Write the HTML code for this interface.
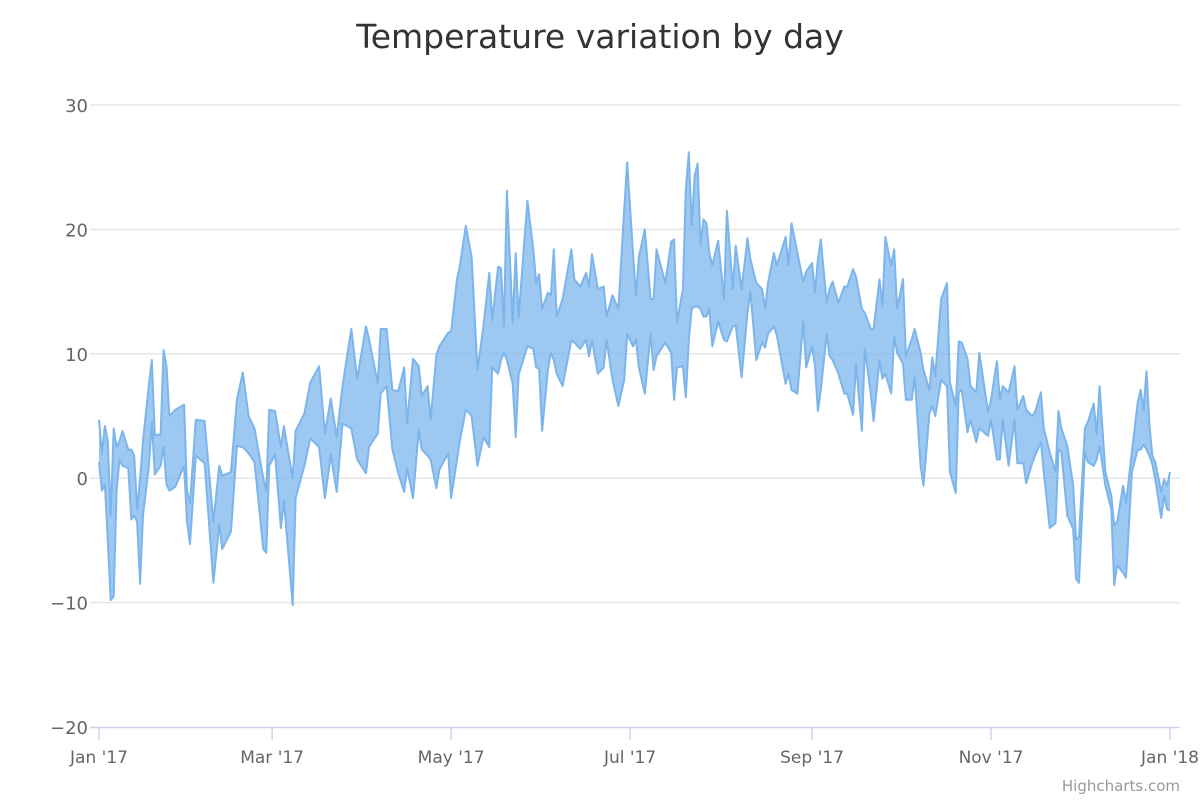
<!DOCTYPE html>
<html><head><meta charset="utf-8"><style>
html,body{margin:0;padding:0;background:#fff;}
svg{display:block;font-family:"DejaVu Sans","Liberation Sans",sans-serif;}
</style></head><body>
<svg id="chart" width="1200" height="800" viewBox="0 0 1200 800">
<rect width="1200" height="800" fill="#fff"/>
<text x="600" y="48" text-anchor="middle" font-size="33" fill="#333">Temperature variation by day</text>
<g id="grid"></g>
<g id="ylabels"></g>
<g id="series"></g>
<g id="xaxis"></g>
<text x="1180" y="791" text-anchor="end" font-size="15" fill="#999">Highcharts.com</text>
</svg>
<script>
const days = [0,1,2,3,4,5,6,7,8,10,11,12,13,14,15,17,18,19,21,22,23,24,26,29,30,31,33,36,39,41,42,45,47,49,51,53,56,57,58,60,62,63,66,67,70,72,75,77,79,81,83,86,88,
91,92,95,96,98,100,102,104,105,107,109,110,112,113,115,116,119,120,122,123,125,127,129,131,133,134,136,137,138,139,141,142,143,146,148,149,150,151,153,154,155,156,158,161,162,164,166,167,168,170,172,173,175,177,179,180,182,
183,184,186,188,189,190,193,195,196,197,199,200,201,202,203,204,205,206,207,208,209,211,213,214,216,217,219,221,222,224,226,227,228,230,231,234,235,236,238,240,241,243,244,245,246,248,249,250,252,254,255,257,258,260,261,263,264,266,267,268,270,271,272,274,275,
277,278,280,281,283,284,285,287,289,290,292,293,294,296,297,299,300,303,304,306,307,308,310,312,313,315,316,318,319,321,322,324,326,327,328,330,332,333,334,336,337,339,340,341,343,345,346,347,349,350,352,354,355,356,357,358,359,360,362,363,364,365];
const lows = [1.3,-1,-0.5,-5,-9.8,-9.5,-1,1.5,1,0.8,-3.3,-3,-3.5,-8.5,-3,1,4.5,0.3,1,2.5,-0.5,-1,-0.7,1,-3.5,-5.3,1.8,1.2,-8.4,-3.7,-5.7,-4.3,2.6,2.5,2,1.3,-5.7,-6,1,1.9,-4,-1.8,-10.2,-1.6,1,3.2,2.5,-1.6,1.9,-1.1,4.4,4,1.5,
0.4,2.5,3.6,6.8,7.4,2.3,0.4,-1.1,0.8,-1.6,3.9,2.3,1.8,1.5,-0.8,0.7,2,-1.6,1.5,3,5.5,5,1,3.3,2.5,8.9,8.4,9.5,10.1,9.5,7.6,3.3,8.3,10.6,10.4,8.9,8.8,3.8,8.7,10.1,9.5,8.4,7.4,11.1,10.9,10.4,11.1,9.8,11.1,8.4,8.9,11.1,7.9,5.8,7.9,11.6,10.6,
11.1,8.9,6.8,11.6,8.7,9.8,10.9,10.1,6.3,8.9,9,6.5,11.1,13.6,13.8,13.8,13.6,13,13,13.6,10.6,12.6,11.1,11,12.2,12.3,8.1,13.3,15,9.5,10.9,10.5,11.6,12.2,11.5,7.6,8.4,7.1,6.8,12.6,8.9,10.6,9,5.4,7.1,11.6,9.8,9.5,8.4,6.8,6.8,5.1,9.2,3.8,10.4,6.8,4.6,9.5,8,8.4,6.8,11.4,10.1,9.2,6.3,
6.3,8.2,1,-0.6,5.2,5.8,5,7.9,7.4,0.5,-1.2,6.9,7.1,3.7,4.7,2.9,4,3.4,4.7,1.5,1.5,4.7,1,4.7,1.2,1.2,-0.4,1.2,1.8,2.9,0.5,-4,-3.6,2.3,2.1,-3,-4.1,-8.1,-8.4,2.1,1.3,1,1.5,2.6,-0.6,-2.5,-8.6,-7,-7.6,-8,0.5,2.3,2.3,2.7,2.3,1.8,1.1,-0.1,-3.2,-1.4,-2.5,-2.6];
const highs = [4.7,2,4.2,3,-3,4,2.5,3,3.8,2.3,2.3,1.8,-2.5,0,3,7.5,9.5,3.5,3.5,10.3,9,5,5.5,5.9,-1,-2,4.7,4.6,-3.5,1,0.2,0.5,6.3,8.5,5,4,0,-1,5.5,5.4,2.5,4.2,0,3.8,5.2,7.7,9,3.6,6.4,3.3,7.4,12,8,
12.2,11.2,7.6,12,12,7.1,7,8.9,4.4,9.6,9,6.6,7.4,4.7,9.9,10.6,11.7,11.8,16,17.1,20.3,17.8,8.7,12.2,16.5,12.7,17,16.9,12.2,23.1,12.5,18.1,12.9,22.3,18.4,15.7,16.4,13.6,14.9,14.7,18.4,13,14.4,18.4,16,15.4,16.5,15.4,18,15.2,15.4,13,14.7,13.6,21.6,25.4,18.1,
14.7,17.8,20,14.4,14.4,18.4,15.7,19,19.2,12.5,15.2,23.2,26.2,20.3,24.3,25.3,18.7,20.8,20.5,18.1,17.1,19.1,14.4,21.5,15.2,18.7,15.2,19.3,17.6,15.7,15.2,13.6,15.7,18.1,17.1,19.4,17.1,20.5,18.1,15.8,16.6,17.3,14.9,17.6,19.2,14.1,15.2,15.8,14.1,15.4,15.4,16.8,16.2,13.6,13.3,12,12,16,13.8,19.4,17.1,18.4,13.6,16,9.8,
11.2,12,10.1,8.7,7.1,9.7,8.2,14.4,15.7,7.7,5.8,11,10.9,9.6,7.4,6.9,10.1,5.3,6.3,9.4,6.3,7.4,6.9,9,5.5,6.6,5.5,5,5.3,6.9,4,2.1,0.5,5.4,4,2.6,-0.6,-4.9,-4.7,4,4.5,6,3.5,7.4,0.5,-1.4,-3.8,-3.5,-0.6,-2,2.1,6.1,7.1,5.5,8.6,4.2,1.8,1.3,-1.1,-0.1,-0.6,0.5];
const yTicks = [-20,-10,0,10,20,30];
const xTickDays = [0,59,120,181,243,304,365];
const xTickLabels = ["Jan '17","Mar '17","May '17","Jul '17","Sep '17","Nov '17","Jan '18"];

const NS = "http://www.w3.org/2000/svg";
const X0 = 99, X1 = 1170, DAYMAX = 365;
const Y_TOP = 105, Y_BOT = 727, VMAX = 30, VMIN = -20;
function xs(d){ return X0 + (d / DAYMAX) * (X1 - X0); }
function ys(v){ return Y_BOT - (v - VMIN) / (VMAX - VMIN) * (Y_BOT - Y_TOP); }
function mk(tag, attrs, parent){ const e = document.createElementNS(NS, tag); for (const k in attrs) e.setAttribute(k, attrs[k]); parent.appendChild(e); return e; }

const gridG = document.getElementById('grid'), ylG = document.getElementById('ylabels');
yTicks.forEach(v => {
  if (v !== VMIN) {
    const l = mk('line', {x1: 90, x2: 1180, y1: ys(v), y2: ys(v), stroke: '#e6e6e6', 'stroke-width': 1.5}, gridG);
    
    
  }
  const t = mk('text', {x: 88, y: ys(v) + 7, 'text-anchor': 'end', 'font-size': 18, fill: '#666'}, ylG);
  t.textContent = (v < 0 ? '\u2212' : '') + Math.abs(v);
  
  
});

const xaG = document.getElementById('xaxis');
const axl = mk('line', {x1: 90, x2: 1180, y1: 727.5, y2: 727.5, stroke: '#ccd6eb', 'stroke-width': 1.5}, xaG);


xTickDays.forEach((d, i) => {
  const tk = mk('line', {x1: xs(d), x2: xs(d), y1: 727, y2: 740, stroke: '#ccd6eb', 'stroke-width': 1.5}, xaG);
  
  
  const t = mk('text', {x: xs(d), y: 763, 'text-anchor': 'middle', 'font-size': 17, fill: '#666'}, xaG);
  t.textContent = xTickLabels[i];
  
  
});

const seriesG = document.getElementById('series');
const nPts = Math.min(days.length, lows.length, highs.length);
const topPts = [], botPts = [];
for (let i = 0; i < nPts; i++) {
  topPts.push(xs(days[i]).toFixed(1) + ',' + ys(highs[i]).toFixed(1));
  botPts.push(xs(days[i]).toFixed(1) + ',' + ys(lows[i]).toFixed(1));
}
const botRev = botPts.slice().reverse();
const area = mk('path', {d: 'M' + topPts.join('L') + 'L' + botRev.join('L') + 'Z', fill: 'rgba(124,181,236,0.75)', stroke: 'none'}, seriesG);


const hl = mk('path', {d: 'M' + topPts.join('L'), fill: 'none', stroke: '#7cb5ec', 'stroke-width': 2, 'stroke-linejoin': 'round'}, seriesG);


const ll = mk('path', {d: 'M' + botPts.join('L'), fill: 'none', stroke: '#7cb5ec', 'stroke-width': 2, 'stroke-linejoin': 'round'}, seriesG);


</script>
</body></html>
